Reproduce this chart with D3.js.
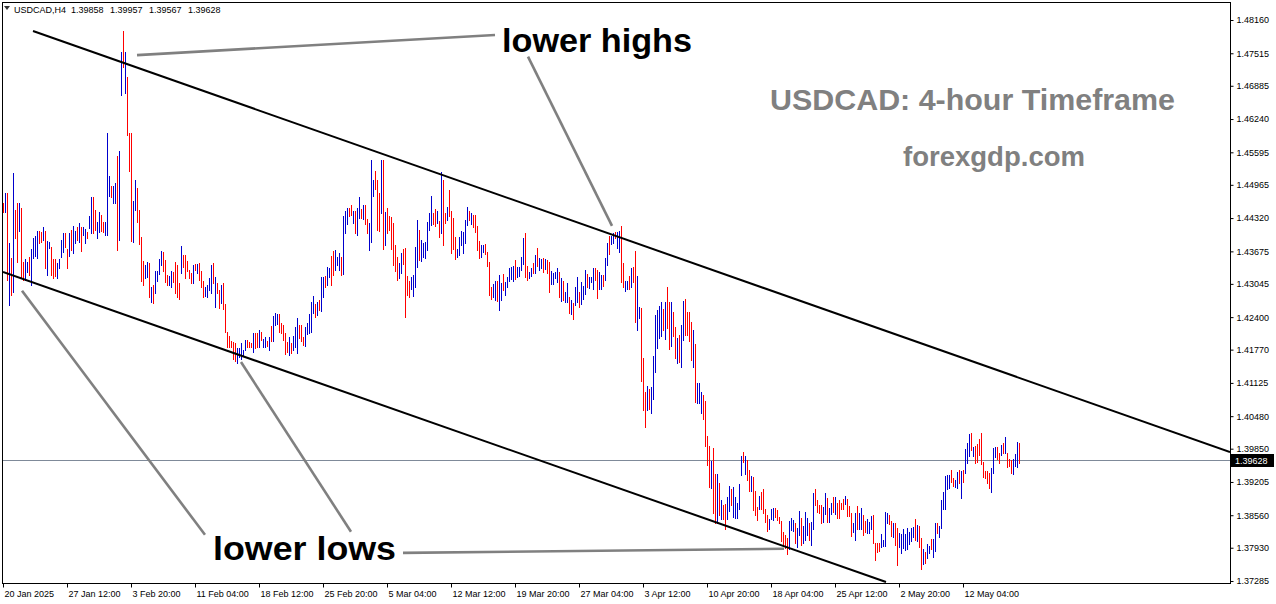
<!DOCTYPE html>
<html><head><meta charset="utf-8">
<script src="https://cdn.jsdelivr.net/npm/d3@7"></script>
<style>
html,body{margin:0;padding:0;background:#fff;}
svg{display:block;}
</style></head><body>
<svg id="chart" width="1276" height="604"></svg>
<script>
// ---------------- DATA ----------------
const symbolLabel = "USDCAD,H4";
const lastBarOHLC = [1.39858, 1.39957, 1.39567, 1.39628];
const currentPrice = 1.39628;

const highs = [
1.4461,1.4481,1.4481,1.4384,1.4355,1.4519,1.4448,1.4461,1.4461,1.4452,
1.4347,1.4353,1.4347,1.4357,1.4372,1.4394,1.4397,1.4407,1.4407,1.4405,
1.4415,1.4407,1.4388,1.4386,1.4376,1.4353,1.4353,1.4345,1.4353,1.4390,
1.4403,1.4403,1.4372,1.4403,1.4409,1.4417,1.4407,1.4415,1.4423,1.4415,
1.4415,1.4411,1.4405,1.4436,1.4473,1.4473,1.4448,1.4424,1.4444,1.4438,
1.4424,1.4424,1.4597,1.4514,1.4494,1.4494,1.4500,1.4552,1.4562,1.4754,
1.4795,1.4754,1.4706,1.4597,1.4597,1.4465,
1.4506,1.4490,1.4448,1.4395,1.4349,1.4341,1.4347,1.4345,1.4299,1.4302,
1.4330,1.4330,1.4353,1.4368,1.4366,1.4351,1.4322,1.4320,1.4330,1.4328,
1.4347,1.4341,1.4306,1.4378,1.4361,1.4361,1.4349,1.4331,1.4326,1.4341,
1.4343,1.4343,1.4345,1.4330,1.4310,1.4299,1.4302,1.4316,1.4341,1.4345,
1.4318,1.4306,1.4293,1.4302,1.4306,1.4265,1.4211,1.4203,1.4194,1.4192,
1.4190,1.4180,1.4180,1.4190,1.4176,1.4196,1.4196,1.4192,1.4190,1.4209,
1.4209,1.4209,1.4215,1.4211,1.4198,1.4201,1.4194,1.4201,1.4223,1.4242,
1.4248,1.4246,1.4246,
1.4229,1.4225,1.4209,1.4192,1.4201,1.4190,1.4203,1.4221,1.4239,1.4225,
1.4225,1.4201,1.4221,1.4229,1.4246,1.4269,1.4281,1.4265,1.4269,1.4273,
1.4318,1.4318,1.4320,1.4337,1.4335,1.4359,1.4368,1.4370,1.4357,1.4364,
1.4357,1.4436,1.4446,1.4452,1.4452,1.4458,1.4446,1.4446,1.4452,1.4473,
1.4450,1.4458,1.4458,1.4430,1.4423,1.4545,1.4506,1.4523,1.4506,1.4481,
1.4545,1.4545,1.4444,1.4452,1.4436,1.4434,1.4423,1.4380,1.4357,1.4345,
1.4364,1.4372,1.4374,1.4320,1.4310,1.4318,1.4322,1.4376,1.4428,1.4409,
1.4390,1.4384,1.4386,1.4424,1.4442,1.4475,1.4442,1.4450,1.4446,1.4426,
1.4521,1.4506,
1.4442,1.4454,1.4487,1.4446,1.4432,1.4395,1.4372,1.4395,1.4407,1.4405,
1.4428,1.4454,1.4446,1.4442,1.4438,1.4438,1.4417,1.4388,1.4380,1.4380,
1.4382,1.4366,1.4347,1.4299,1.4304,1.4310,1.4310,1.4322,1.4306,1.4324,
1.4308,1.4318,1.4335,1.4337,1.4339,1.4351,1.4337,1.4337,1.4357,1.4394,
1.4403,1.4339,1.4328,1.4335,1.4345,1.4361,1.4374,1.4355,1.4353,1.4355,
1.4353,1.4351,1.4347,1.4330,1.4326,1.4328,1.4335,1.4328,
1.4316,1.4310,1.4289,1.4306,1.4279,1.4273,1.4267,1.4299,1.4318,1.4289,
1.4308,1.4300,1.4331,1.4324,1.4318,1.4318,1.4335,1.4335,1.4331,1.4328,
1.4322,1.4322,1.4355,1.4384,1.4397,1.4397,1.4403,1.4405,1.4405,1.4407,
1.4417,1.4345,1.4310,1.4310,1.4320,1.4335,1.4337,1.4368,1.4320,1.4260,
1.4258,1.4161,1.4095,1.4107,1.4101,1.4105,1.4165,1.4244,1.4254,1.4262,
1.4269,1.4256,1.4269,1.4299,1.4269,1.4269,1.4250,
1.4221,1.4200,1.4205,1.4225,1.4271,1.4275,1.4250,1.4250,1.4231,1.4215,
1.4188,1.4112,1.4112,1.4095,1.4089,1.4078,1.4010,1.3990,1.3961,1.3987,
1.3936,1.3936,1.3919,1.3886,1.3876,1.3878,1.3891,1.3913,1.3907,1.3911,
1.3891,1.3880,1.3917,1.3971,1.3979,1.3971,1.3963,1.3944,1.3932,1.3930,
1.3903,1.3872,1.3893,1.3901,1.3907,1.3868,1.3857,1.3849,1.3868,1.3870,
1.3870,1.3866,1.3853,1.3845,1.3824,1.3818,1.3812,1.3845,
1.3851,1.3847,1.3841,1.3832,1.3864,1.3851,1.3836,1.3862,1.3851,1.3841,
1.3843,1.3899,1.3907,1.3886,1.3876,1.3876,1.3872,1.3899,1.3890,1.3870,
1.3880,1.3891,1.3891,1.3880,1.3886,1.3880,1.3888,1.3893,1.3888,1.3874,
1.3860,1.3841,1.3860,1.3874,1.3860,1.3870,1.3857,1.3845,1.3849,1.3843,
1.3855,1.3857,1.3802,1.3802,1.3802,1.3820,1.3808,1.3862,1.3860,1.3857,
1.3845,1.3841,1.3841,1.3832,1.3822,1.3820,1.3829,
1.3820,1.3832,1.3824,1.3832,1.3834,1.3849,1.3838,1.3836,1.3812,1.3791,
1.3785,1.3800,1.3797,1.3810,1.3810,1.3841,1.3841,1.3836,1.3886,1.3901,
1.3932,1.3934,1.3934,1.3944,1.3928,1.3924,1.3940,1.3944,1.3942,1.3944,
1.3984,1.3996,1.4014,1.4016,1.3988,1.3990,1.3994,1.4004,1.4016,1.3959,
1.3942,1.3942,1.3938,1.3948,1.3987,1.3988,1.3988,1.3977,1.3992,1.3996,
1.4008,1.3977,1.3965,1.3963,1.3965,1.3975,1.3998,1.39957
];

const lows = [
1.4444,1.4444,1.4312,1.4264,1.4283,1.4289,1.4394,1.4347,1.4407,1.4318,
1.4312,1.4312,1.4328,1.4322,1.4302,1.4355,1.4359,1.4355,1.4384,1.4386,
1.4390,1.4335,1.4322,1.4374,1.4322,1.4316,1.4320,1.4316,1.4335,1.4357,
1.4366,1.4376,1.4335,1.4359,1.4370,1.4364,1.4384,1.4390,1.4386,1.4368,
1.4399,1.4384,1.4394,1.4413,1.4403,1.4403,1.4409,1.4394,1.4405,1.4407,
1.4405,1.4399,1.4399,1.4475,1.4473,1.4461,1.4461,1.4370,1.4390,1.4671,
1.4725,1.4674,1.4593,1.4523,1.4388,1.4386,
1.4448,1.4424,1.4382,1.4310,1.4302,1.4316,1.4318,1.4279,1.4269,1.4267,
1.4287,1.4310,1.4324,1.4341,1.4330,1.4308,1.4302,1.4302,1.4299,1.4308,
1.4287,1.4279,1.4275,1.4326,1.4337,1.4316,1.4330,1.4316,1.4306,1.4306,
1.4331,1.4326,1.4312,1.4299,1.4279,1.4281,1.4279,1.4293,1.4287,1.4306,
1.4260,1.4287,1.4258,1.4267,1.4256,1.4211,1.4182,1.4182,1.4182,1.4159,
1.4155,1.4151,1.4163,1.4159,1.4167,1.4176,1.4182,1.4182,1.4182,1.4172,
1.4180,1.4182,1.4182,1.4196,1.4182,1.4182,1.4184,1.4176,1.4194,1.4194,
1.4225,1.4227,1.4211,
1.4209,1.4196,1.4169,1.4172,1.4167,1.4170,1.4176,1.4182,1.4170,1.4200,
1.4194,1.4186,1.4184,1.4207,1.4209,1.4211,1.4248,1.4240,1.4244,1.4254,
1.4252,1.4279,1.4299,1.4302,1.4318,1.4302,1.4322,1.4331,1.4341,1.4331,
1.4322,1.4324,1.4403,1.4421,1.4436,1.4438,1.4423,1.4403,1.4399,1.4432,
1.4432,1.4430,1.4421,1.4403,1.4370,1.4386,1.4475,1.4488,1.4409,1.4407,
1.4442,1.4372,1.4380,1.4403,1.4409,1.4372,1.4341,1.4330,1.4312,1.4316,
1.4326,1.4343,1.4240,1.4283,1.4279,1.4295,1.4281,1.4299,1.4337,1.4351,
1.4349,1.4357,1.4355,1.4370,1.4409,1.4419,1.4421,1.4417,1.4423,1.4395,
1.4403,1.4380,
1.4423,1.4428,1.4436,1.4364,1.4372,1.4353,1.4357,1.4361,1.4380,1.4364,
1.4384,1.4419,1.4428,1.4421,1.4415,1.4405,1.4370,1.4355,1.4357,1.4366,
1.4362,1.4339,1.4283,1.4275,1.4279,1.4273,1.4271,1.4254,1.4273,1.4293,
1.4283,1.4299,1.4310,1.4314,1.4310,1.4314,1.4318,1.4320,1.4331,1.4343,
1.4318,1.4312,1.4316,1.4320,1.4326,1.4326,1.4339,1.4331,1.4335,1.4328,
1.4333,1.4326,1.4289,1.4304,1.4304,1.4316,1.4308,1.4279,
1.4271,1.4273,1.4269,1.4269,1.4248,1.4246,1.4237,1.4264,1.4269,1.4260,
1.4265,1.4275,1.4285,1.4299,1.4297,1.4308,1.4295,1.4312,1.4277,1.4295,
1.4295,1.4300,1.4312,1.4341,1.4362,1.4382,1.4384,1.4394,1.4374,1.4366,
1.4308,1.4299,1.4291,1.4295,1.4295,1.4299,1.4308,1.4231,1.4215,1.4239,
1.4116,1.4060,1.4027,1.4060,1.4062,1.4054,1.4081,1.4134,1.4180,1.4200,
1.4203,1.4215,1.4198,1.4219,1.4178,1.4184,1.4203,
1.4161,1.4151,1.4153,1.4144,1.4196,1.4205,1.4205,1.4194,1.4157,1.4144,
1.4076,1.4074,1.4074,1.4054,1.4043,1.3990,1.3953,1.3911,1.3909,1.3860,
1.3841,1.3841,1.3857,1.3849,1.3849,1.3829,1.3849,1.3864,1.3876,1.3853,
1.3851,1.3851,1.3868,1.3934,1.3959,1.3936,1.3924,1.3903,1.3903,1.3866,
1.3857,1.3847,1.3868,1.3868,1.3860,1.3843,1.3826,1.3829,1.3849,1.3847,
1.3853,1.3847,1.3841,1.3806,1.3798,1.3793,1.3781,1.3791,
1.3827,1.3826,1.3802,1.3795,1.3818,1.3798,1.3802,1.3808,1.3818,1.3808,
1.3798,1.3829,1.3876,1.3862,1.3860,1.3841,1.3843,1.3859,1.3843,1.3843,
1.3859,1.3862,1.3859,1.3851,1.3851,1.3868,1.3868,1.3878,1.3855,1.3855,
1.3816,1.3824,1.3808,1.3829,1.3829,1.3829,1.3818,1.3824,1.3822,1.3822,
1.3829,1.3802,1.3769,1.3785,1.3787,1.3795,1.3797,1.3797,1.3841,1.3839,
1.3816,1.3814,1.3798,1.3760,1.3795,1.3783,1.3793,
1.3789,1.3791,1.3800,1.3806,1.3814,1.3808,1.3806,1.3795,1.3752,1.3762,
1.3764,1.3773,1.3783,1.3791,1.3775,1.3787,1.3822,1.3814,1.3832,1.3868,
1.3868,1.3907,1.3909,1.3921,1.3913,1.3911,1.3909,1.3919,1.3890,1.3921,
1.3938,1.3957,1.3971,1.3983,1.3971,1.3957,1.3959,1.3973,1.3955,1.3930,
1.3928,1.3919,1.3909,1.3901,1.3938,1.3969,1.3965,1.3957,1.3973,1.3977,
1.3977,1.3950,1.3952,1.3938,1.3936,1.3952,1.3950,1.39567
];

// u = bullish (close above open), d = bearish
const barDirection = [
"dudududdud","duuduuuudd","uduuddduuu","udduduudud","uuduudduud","duuuduuduu","dudddu",
"udddduudud","uuuuddduud","dddudddddu","duddduuuud","uddudddddd","duuuuudddu","dduduududu","uud",
"dddduduuud","dduuuuudud","uuduudduuu","duuudduduu","dudduuuddd","ududdddddu","udddduuuud","uuuuuuddud","ud",
"dudddduuuu","uududddduu","dddduuduud","uuuuuduuuu","dduududuud","udduuuud",
"uduududuud","uuuduuuddu","uduuduuduu","dduududduu","ddduduuuuu","ududdud",
"duduuddddu","duuuddddud","dududduudu","uuuududdud","ddudddduuu","dddddddu",
"uuduuduuud","uudddduudu","ududdddudd","duuduudduu","udddduuuud","dudduuu",
"uuuuududdu","duuduuduuu","uuudduudud","uuududdddd","ddduuuddud","uddduuud"
].join("").split("");

const priceTicks = [1.48160,1.47515,1.46885,1.46240,1.45595,1.44965,1.44320,1.43675,1.43045,
  1.42400,1.41770,1.41125,1.40480,1.39850,1.39205,1.38560,1.37930,1.37285];

const timeLabels = ["20 Jan 2025","27 Jan 12:00","3 Feb 20:00","11 Feb 04:00","18 Feb 12:00",
  "25 Feb 20:00","5 Mar 04:00","12 Mar 12:00","19 Mar 20:00","27 Mar 04:00","3 Apr 12:00",
  "10 Apr 20:00","18 Apr 04:00","25 Apr 12:00","2 May 20:00","12 May 04:00"];
const timeLabelBars = [0,32,64,96,128,160,192,224,256,288,320,352,384,416,448,480];

// channel lines (bar index, price)
const upperChannel = [[15, 1.47947],[613.5, 1.39786]];
const lowerChannel = [[0, 1.43275],[441.5, 1.37266]];

// annotation pointer lines (bar index, price)
const pointers = [
  [[67, 1.4748],[246, 1.4787]],
  [[262.5, 1.4745],[304.5, 1.4417]],
  [[9.5, 1.4291],[101, 1.3818]],
  [[119, 1.4153],[174, 1.3824]],
  [[200, 1.3783],[390.5, 1.3791]]
];

// ---------------- DRAW ----------------
const svg = d3.select("#chart");
const plot = {left:2, top:2, right:1230, bottom:583};
const x = d3.scaleLinear().domain([-0.5, 613.5]).range([plot.left, plot.right]);
const y = d3.scaleLinear().domain([1.37285, 1.48160]).range([581, 20]);
const axisFont = "'Liberation Sans', Arial, sans-serif";

svg.append("rect").attr("width",1276).attr("height",604).attr("fill","#fff");

svg.append("defs").append("clipPath").attr("id","clip")
  .append("rect").attr("x",plot.left+1).attr("y",plot.top+1)
  .attr("width",plot.right-plot.left-1).attr("height",plot.bottom-plot.top-1);

// current price line
svg.append("line")
  .attr("x1",plot.left+1).attr("x2",plot.right)
  .attr("y1",Math.round(y(currentPrice))+0.5).attr("y2",Math.round(y(currentPrice))+0.5)
  .attr("stroke","#7f8a99").attr("stroke-width",1);

// bars
const bars = highs.map((h,i)=>({i, high:h, low:lows[i], up: barDirection[i]==="u"}));
svg.append("g").attr("clip-path","url(#clip)")
  .selectAll("rect").data(bars).join("rect")
  .attr("x", d=>Math.round(x(d.i)))
  .attr("y", d=>Math.round(y(d.high)))
  .attr("width",1)
  .attr("height", d=>Math.max(1, Math.round(y(d.low))-Math.round(y(d.high))+1))
  .attr("fill", d=>d.up ? "#0000cd" : "#ff0000")
  .attr("shape-rendering","crispEdges");

// channel lines
const line = d3.line().x(d=>x(d[0])).y(d=>y(d[1]));
const g = svg.append("g").attr("clip-path","url(#clip)");
[upperChannel, lowerChannel].forEach(c=>{
  g.append("path").attr("d",line(c)).attr("stroke","#000").attr("stroke-width",2).attr("fill","none");
});

// pointer lines
pointers.forEach(p=>{
  svg.append("path").attr("d",line(p)).attr("stroke","#808080").attr("stroke-width",2.6).attr("fill","none");
});

// frame
svg.append("rect").attr("x",plot.left+0.5).attr("y",plot.top+0.5)
  .attr("width",plot.right-plot.left).attr("height",plot.bottom-plot.top)
  .attr("fill","none").attr("stroke","#000").attr("stroke-width",1);

// price axis
const yAxis = svg.append("g").attr("transform",`translate(${plot.right+0.5},0)`)
  .call(d3.axisRight(y).tickValues(priceTicks).tickFormat(d3.format(".5f")).tickSize(3).tickPadding(3));
yAxis.select(".domain").remove();
yAxis.selectAll("text").attr("font-family",axisFont).attr("font-size",9).attr("fill","#000");
yAxis.selectAll("line").attr("stroke","#000");

// time axis
const xAxis = svg.append("g").attr("transform",`translate(0,${plot.bottom+0.5})`)
  .call(d3.axisBottom(x).tickValues(timeLabelBars).tickFormat((d,i)=>timeLabels[i]).tickSize(4).tickPadding(3));
xAxis.select(".domain").remove();
xAxis.selectAll("text").attr("font-family",axisFont).attr("font-size",9).attr("fill","#000")
  .attr("text-anchor","start").attr("x",1);
xAxis.selectAll("line").attr("stroke","#000");

// current price tag
const cy = Math.round(y(currentPrice));
svg.append("rect").attr("x",plot.right+1).attr("y",cy-6).attr("width",43).attr("height",13).attr("fill","#000");
svg.append("text").attr("x",plot.right+5).attr("y",cy+4).attr("font-family",axisFont).attr("font-size",9)
  .attr("fill","#fff").text(d3.format(".5f")(currentPrice));

// header
svg.append("path").attr("d","M4,6 L10,6 L7,10 Z").attr("fill","#333");
const header = [symbolLabel, ...lastBarOHLC.map(d3.format(".5f"))];
const headerX = [14, 71, 110, 149, 188];
header.forEach((t,i)=>{
  svg.append("text").attr("x",headerX[i]).attr("y",13).attr("font-family",axisFont)
    .attr("font-size",9).attr("fill","#000").text(t);
});

// big annotation texts
const bigFont = "'Liberation Sans', Arial, sans-serif";
function big(t, xx, yy, size, len, color){
  svg.append("text").attr("x",xx).attr("y",yy).attr("font-family",bigFont).attr("font-weight","bold")
    .attr("font-size",size).attr("fill",color).attr("textLength",len).attr("lengthAdjust","spacingAndGlyphs").text(t);
}
big("lower highs", 502, 52, 34, 190, "#000");
big("lower lows", 213, 560, 34, 183, "#000");
big("USDCAD: 4-hour Timeframe", 770, 110, 30, 405, "#808080");
big("forexgdp.com", 903, 166, 27, 182, "#808080");
</script>
</body></html>
